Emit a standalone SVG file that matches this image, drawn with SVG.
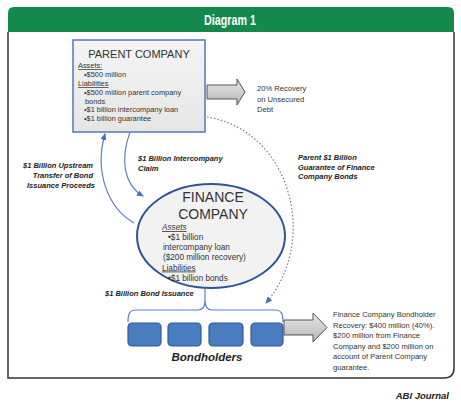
<svg xmlns="http://www.w3.org/2000/svg" width="461" height="411" viewBox="0 0 461 411">
<defs>
<style>
.t{font-family:"Liberation Sans",Arial,sans-serif;fill:#333}
.s{font-size:7.4px}
.e{font-size:8.2px}
.lb{font-family:"Liberation Sans",Arial,sans-serif;font-size:7.5px;font-weight:bold;font-style:italic;fill:#222}
.r{font-size:7.6px}
.u{text-decoration:underline}
.conn{fill:none;stroke:#5b80c4;stroke-width:1.2}
.bh{fill:#4a7cc0;stroke:#2f5a99;stroke-width:1.2}
.garrow{fill:url(#gg);stroke:#555;stroke-width:1}
</style>
<linearGradient id="pg" x1="0" y1="0" x2="0" y2="1">
<stop offset="0" stop-color="#f4f4f4"/><stop offset="1" stop-color="#e6e6e6"/>
</linearGradient>
<linearGradient id="gg" x1="0" y1="0" x2="0" y2="1">
<stop offset="0" stop-color="#e8e8e8"/><stop offset="0.5" stop-color="#cfcfcf"/><stop offset="1" stop-color="#b5b5b5"/>
</linearGradient>
<marker id="ah" markerWidth="7" markerHeight="6" refX="6" refY="3" orient="auto" markerUnits="userSpaceOnUse">
<path d="M0,0 L7,3 L0,6 z" fill="#4470b5"/>
</marker>
</defs>
<rect width="461" height="411" fill="#fff"/>
<g id="frame">
<path d="M8,13 Q8,7 14,7 L448,7 Q454,7 454,13 L454,32 L8,32 z" fill="#138a4c"/>
<path d="M8,32 L8,378 L444,378 Q454,378 454,368 L454,32" fill="none" stroke="#333" stroke-width="1.5"/>
<text x="230" y="25" font-family="Liberation Sans,Arial,sans-serif" font-size="14" font-weight="bold" fill="#fff" text-anchor="middle" textLength="52" lengthAdjust="spacingAndGlyphs">Diagram 1</text>
</g>
<g id="connectors">
<path class="conn" d="M134,223 C108,208 94,172 105,134" marker-end="url(#ah)"/>
<path class="conn" d="M130,132 C120,160 124,185 143,196" marker-end="url(#ah)"/>
<path class="conn" d="M207,117 C290,130 320,240 266,303" stroke-dasharray="1.5 2" marker-end="url(#ah)"/>
<path class="conn" d="M128,322 C128,313 130,310 136,310 L198,310 C203,310 205,307 205,300 L205,289 M205,300 C205,307 207,310 212,310 L275,310 C281,310 283,313 283,322" stroke-width="1"/>
</g>
<g id="parent">
<rect x="73" y="40" width="132" height="92" fill="url(#pg)" stroke="#4f79b7" stroke-width="1.5"/>
<text class="t" x="139" y="58" font-size="11" text-anchor="middle">PARENT COMPANY</text>
<text class="t s u" x="78" y="68">Assets:</text>
<text class="t s" x="84" y="77">•$500 million</text>
<text class="t s u" x="78" y="86">Liabilities</text>
<text class="t s" x="84" y="95">•$500 million parent company</text>
<text class="t s" x="85" y="103.5">bonds</text>
<text class="t s" x="84" y="112">•$1 billion intercompany loan</text>
<text class="t s" x="84" y="121">•$1 billion guarantee</text>
</g>
<g id="recovery-arrow">
<path class="garrow" d="M207,85 L237,85 L237,79 L245,92 L237,105 L237,99 L207,99 z"/>
<text class="t r" x="257" y="91">20% Recovery</text>
<text class="t r" x="257" y="102">on Unsecured</text>
<text class="t r" x="257" y="112">Debt</text>
</g>
<g id="labels">
<text class="lb" x="93" y="168" text-anchor="end">$1 Billion Upstream</text>
<text class="lb" x="93" y="178" text-anchor="end">Transfer of Bond</text>
<text class="lb" x="95" y="188" text-anchor="end">Issuance Proceeds</text>
<text class="lb" x="138" y="161">$1 Billion Intercompany</text>
<text class="lb" x="138" y="171">Claim</text>
<text class="lb" x="298" y="160">Parent $1 Billion</text>
<text class="lb" x="298" y="169.5">Guarantee of Finance</text>
<text class="lb" x="298" y="179">Company Bonds</text>
<text class="lb" x="105" y="296">$1 Billion Bond Issuance</text>
</g>
<g id="finance">
<ellipse cx="211" cy="236" rx="74" ry="52" fill="#f2f2f2" stroke="#2f5597" stroke-width="2"/>
<text class="t" x="213" y="202" font-size="14" text-anchor="middle">FINANCE</text>
<text class="t" x="213" y="219" font-size="14" text-anchor="middle">COMPANY</text>
<text class="t e u" x="162" y="230" font-style="italic">Assets</text>
<text class="t e" x="168" y="240">•$1 billion</text>
<text class="t e" x="163" y="250">intercompany loan</text>
<text class="t e" x="163" y="260">($200 million recovery)</text>
<text class="t e u" x="162" y="270.5">Liabilities</text>
<text class="t e" x="168" y="281">•$1 billion bonds</text>
</g>
<g id="bondholders">
<rect class="bh" x="128" y="323" width="33" height="23" rx="4"/>
<rect class="bh" x="168" y="323" width="33" height="23" rx="4"/>
<rect class="bh" x="209" y="323" width="34" height="23" rx="4"/>
<rect class="bh" x="251" y="323" width="32" height="23" rx="4"/>
<text x="207" y="361" font-family="Liberation Sans,Arial,sans-serif" font-size="11.5" font-weight="bold" font-style="italic" fill="#222" text-anchor="middle">Bondholders</text>
</g>
<g id="bondholder-recovery">
<path class="garrow" d="M284,320 L313,320 L313,313 L327,327.5 L313,342 L313,335 L284,335 z"/>
<text class="t r" x="333" y="317">Finance Company Bondholder</text>
<text class="t r" x="333" y="327.5">Recovery:  $400 million (40%).</text>
<text class="t r" x="333" y="338">$200  million from Finance</text>
<text class="t r" x="333" y="348.5">Company and $200 million  on</text>
<text class="t r" x="333" y="359">account of Parent Company</text>
<text class="t r" x="333" y="369.5">guarantee.</text>
</g>
<text x="449" y="399" font-family="Liberation Sans,Arial,sans-serif" font-size="9.5" font-weight="bold" font-style="italic" fill="#222" text-anchor="end">ABI Journal</text>
</svg>
